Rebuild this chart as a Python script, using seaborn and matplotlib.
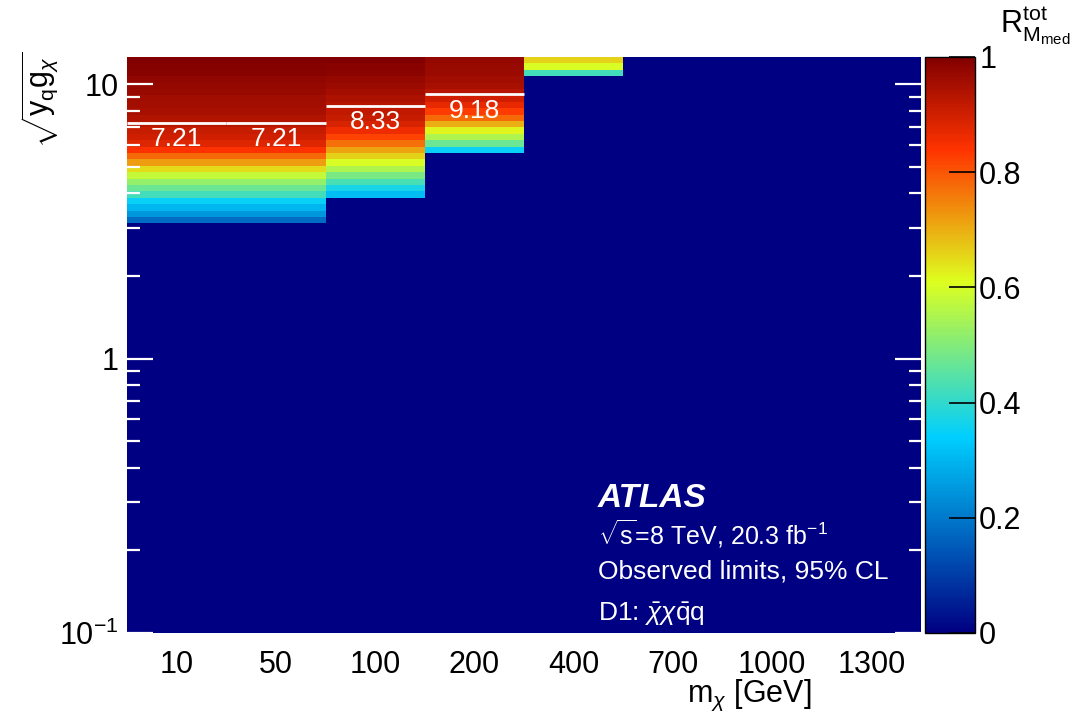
import numpy as np
import pandas as pd
import matplotlib
matplotlib.use("Agg")
import matplotlib.pyplot as plt
from matplotlib.colors import LinearSegmentedColormap
import seaborn as sns

# Dark-matter mass points (GeV) shown as columns
mass_labels = ["10", "50", "100", "200", "400", "700", "1000", "1300"]

# Coupling axis sqrt(y_q g_chi): log-uniform bins from 0.1 up to 4*pi
coupling_min = 0.1
coupling_max = 4 * np.pi
n_coupling_bins = 90

# R_tot per coupling bin, listed from the highest coupling bin downwards;
# bins not listed have R = 0
ratio_10 = [1.00, 0.995, 0.99, 0.98, 0.975, 0.97, 0.96, 0.955, 0.95, 0.94,
            0.93, 0.91, 0.90, 0.88, 0.84, 0.78, 0.72, 0.65, 0.58, 0.52,
            0.47, 0.42, 0.35, 0.30, 0.25, 0.18]
ratio_50 = [1.00, 0.995, 0.99, 0.98, 0.975, 0.97, 0.96, 0.955, 0.95, 0.94,
            0.93, 0.91, 0.90, 0.88, 0.84, 0.78, 0.72, 0.65, 0.58, 0.52,
            0.47, 0.42, 0.35, 0.30, 0.25, 0.18]
ratio_100 = [1.00, 0.99, 0.985, 0.975, 0.965, 0.955, 0.945, 0.93, 0.92, 0.91,
             0.89, 0.86, 0.82, 0.77, 0.71, 0.66, 0.60, 0.55, 0.49, 0.43,
             0.37, 0.31]
ratio_200 = [0.975, 0.97, 0.965, 0.96, 0.95, 0.93, 0.90, 0.87, 0.83, 0.78,
             0.70, 0.62, 0.55, 0.47, 0.35]
ratio_400 = [0.66, 0.60, 0.42]
ratio_700 = []
ratio_1000 = []
ratio_1300 = []

# Coupling value where R_tot crosses the quoted threshold (per mass point)
limit_values = [7.21, 7.21, 8.33, 9.18]

columns = [ratio_10, ratio_50, ratio_100, ratio_200,
           ratio_400, ratio_700, ratio_1000, ratio_1300]
grid = np.zeros((n_coupling_bins, len(mass_labels)))
for j, col in enumerate(columns):
    grid[:len(col), j] = col
table = pd.DataFrame(grid, columns=mass_labels)

# ROOT-style rainbow palette
palette = LinearSegmentedColormap.from_list(
    "root_rainbow",
    [(0.00, (0.00, 0.00, 0.51)),
     (0.34, (0.00, 0.81, 1.00)),
     (0.61, (0.87, 1.00, 0.12)),
     (0.84, (1.00, 0.20, 0.00)),
     (1.00, (0.51, 0.00, 0.00))],
    N=255,
)

sns.set_style("white")
plt.rcParams["font.family"] = ["Liberation Sans", "DejaVu Sans"]
plt.rcParams["mathtext.fontset"] = "custom"
plt.rcParams["mathtext.rm"] = "Liberation Sans"
plt.rcParams["mathtext.it"] = "Liberation Sans:italic"
plt.rcParams["mathtext.bf"] = "Liberation Sans:bold"
for key in ("text.color", "axes.labelcolor", "xtick.color", "ytick.color"):
    plt.rcParams[key] = "black"

W, H = 1075, 720
fig = plt.figure(figsize=(W / 100, H / 100), dpi=100)
ax = fig.add_axes([127 / W, 87 / H, 794 / W, 576 / H])
cax = fig.add_axes([925 / W, 87 / H, 50 / W, 576 / H])

sns.heatmap(table, ax=ax, cmap=palette, vmin=0, vmax=1, cbar_ax=cax,
            xticklabels=mass_labels, yticklabels=False)
ax.set_axisbelow(False)
cax.set_axisbelow(False)

log_lo, log_hi = np.log10(coupling_min), np.log10(coupling_max)
step = (log_hi - log_lo) / n_coupling_bins


def to_row(value):
    """Position of a coupling value on the heatmap's row axis."""
    return (log_hi - np.log10(value)) / step


# Log-style y ticks
major_vals = [0.1, 1, 10]
major_text = [r"$10^{-1}$", "1", "10"]
minor_vals = [m * d for d in (0.1, 1) for m in range(2, 10)]
ax.set_yticks([to_row(v) for v in major_vals])
ax.set_yticklabels(major_text, fontsize=22)
ax.set_yticks([to_row(v) for v in minor_vals], minor=True)
ax.tick_params(axis="y", which="both", direction="in", left=True, right=True,
               color="white", labelcolor="black", pad=6)
ax.tick_params(axis="y", which="major", length=19, width=1.6)
ax.tick_params(axis="y", which="minor", length=9, width=1.6)
ax.tick_params(axis="x", length=0, labelsize=22, pad=12, labelcolor="black")
for t in ax.get_xticklabels():
    t.set_rotation(0)

# Limit markers with their values
for j, v in enumerate(limit_values):
    ax.hlines(to_row(v), j, j + 1, color="white", lw=2)
    ax.annotate(f"{v:.2f}", xy=(j + 0.5, to_row(v)), xytext=(0, -3),
                textcoords="offset points", ha="center", va="top",
                color="white", fontsize=19)

ax.set_xlabel("")
ax.set_ylabel("")

# Colour bar styling
cbar = ax.collections[0].colorbar
cbar.set_ticks([0, 0.2, 0.4, 0.6, 0.8, 1.0])
cbar.set_ticklabels(["0", "0.2", "0.4", "0.6", "0.8", "1"])
cbar.ax.tick_params(direction="in", length=19, width=1.2, color="black",
                    labelcolor="black", labelsize=22, pad=3,
                    right=True, left=False)
cbar.outline.set_edgecolor("black")
cbar.outline.set_linewidth(1.0)

# Axis titles
fig.text(812 / W, 1 - 713 / H, r"$\mathrm{m}_{\chi}$ [GeV]", ha="right",
         va="bottom", fontsize=22)
fig.text(40 / W, 1 - 52 / H, r"$\sqrt{\mathrm{y}_{\mathrm{q}}\mathrm{g}_{\chi}}$",
         ha="center", va="top", rotation=90, fontsize=22)
fig.text(1070 / W, 1 - 4 / H, r"$\mathrm{R}^{\mathrm{tot}}_{\mathrm{M}_{\mathrm{med}}}$",
         ha="right", va="top", fontsize=22)

# Experiment label block
fig.text(598 / W, 1 - 507 / H, "ATLAS", color="white", fontsize=24,
         fontweight="bold", fontstyle="italic", va="baseline")
fig.text(598 / W, 1 - 545 / H, r"$\sqrt{\mathrm{s}}$=8 TeV, 20.3 fb$^{-1}$",
         color="white", fontsize=18, va="baseline")
fig.text(598 / W, 1 - 579 / H, "Observed limits, 95% CL", color="white",
         fontsize=19, va="baseline")
fig.text(598 / W, 1 - 621 / H,
         r"D1: $\bar{\chi}\chi\bar{\mathrm{q}}\mathrm{q}$", color="white",
         fontsize=19, va="baseline")

fig.savefig("out.png", dpi=100)
